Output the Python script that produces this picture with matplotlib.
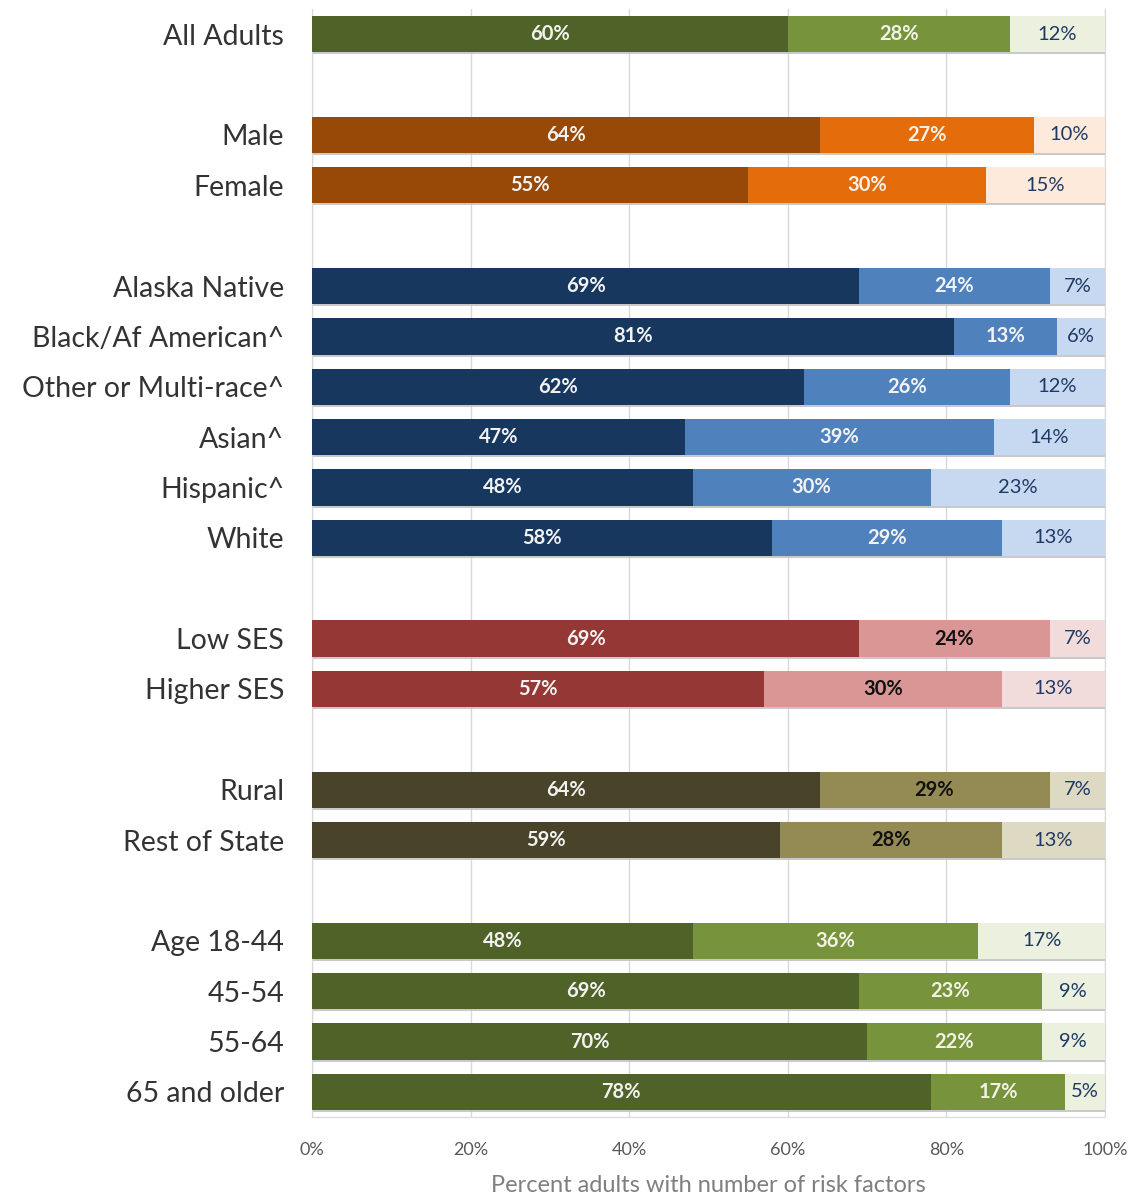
import numpy as np
import matplotlib.pyplot as plt

plt.rcParams['font.family'] = ['Lato', 'DejaVu Sans']

# rows, top to bottom ('' = blank spacer row)
labels = ['All Adults', '', 'Male', 'Female', '',
          'Alaska Native', 'Black/Af American^', 'Other or Multi-race^',
          'Asian^', 'Hispanic^', 'White', '',
          'Low SES', 'Higher SES', '',
          'Rural', 'Rest of State', '',
          'Age 18-44', '45-54', '55-64', '65 and older']

seg1 = [60, 0, 64, 55, 0, 69, 81, 62, 47, 48, 58, 0, 69, 57, 0, 64, 59, 0, 48, 69, 70, 78]
seg2 = [28, 0, 27, 30, 0, 24, 13, 26, 39, 30, 29, 0, 24, 30, 0, 29, 28, 0, 36, 23, 22, 17]
seg3 = [12, 0, 10, 15, 0, 7, 6, 12, 14, 23, 13, 0, 7, 13, 0, 7, 13, 0, 17, 9, 9, 5]

# palette per group: (dark, mid, light, mid-label colour)
green = ('#4F6228', '#77933C', '#EBF1DE', '#F2F2E6')
orange = ('#984807', '#E46C0A', '#FDEADA', '#F7F0E6')
blue = ('#17375E', '#4F81BD', '#C6D9F1', '#F2F2F2')
red = ('#953735', '#D99694', '#F2DCDB', '#111111')
brown = ('#494429', '#948A54', '#DDD9C3', '#111111')
row_pal = [green, None, orange, orange, None,
           blue, blue, blue, blue, blue, blue, None,
           red, red, None, brown, brown, None,
           green, green, green, green]

fig = plt.figure(figsize=(11.35, 12.01), dpi=100)
ax = fig.add_axes([0.2749, 0.0699, 0.6987, 0.9226])

y = np.arange(len(labels))
h = 0.72
for i in y:
    pal = row_pal[i]
    if pal is None:
        continue
    a, b, c = seg1[i], seg2[i], seg3[i]
    ax.barh(i, a, height=h, color=pal[0], zorder=3)
    ax.barh(i, b, left=a, height=h, color=pal[1], zorder=3)
    ax.barh(i, c, left=a + b, height=h, color=pal[2], zorder=3)
    # faint shadow line under each bar
    ax.plot([0, 100], [i + h / 2 + 0.02, i + h / 2 + 0.02], color='#BFBFBF', lw=1.2, zorder=2)
    ax.text(a / 2, i, f'{a}%', ha='center', va='center', color='#F2F2F2',
            fontsize=14.5, fontweight='bold', zorder=4)
    ax.text(a + b / 2, i, f'{b}%', ha='center', va='center', color=pal[3],
            fontsize=14.5, fontweight='bold', zorder=4)
    right = min(a + b + c, 100)
    ax.text((a + b + right) / 2, i, f'{c}%', ha='center', va='center',
            color='#1F3864', fontsize=14.5, zorder=4)

ax.set_xlim(0, 100)
ax.set_ylim(21.5, -0.5)
ax.set_yticks(y)
ax.set_yticklabels(labels, fontsize=20.5, color='#333333')
ax.set_xticks(np.arange(0, 101, 20))
ax.set_xticklabels([f'{v}%' for v in range(0, 101, 20)], fontsize=13, color='#595959')
ax.tick_params(axis='both', length=0)
ax.tick_params(axis='y', pad=20)
ax.tick_params(axis='x', pad=18)
ax.grid(axis='x', color='#D9D9D9', lw=1, zorder=0)
ax.spines['top'].set_visible(False)
for s in ['left', 'right', 'bottom']:
    ax.spines[s].set_color('#D9D9D9')
ax.set_xlabel('Percent adults with number of risk factors', fontsize=17,
              color='#7F7F7F', labelpad=12)

fig.savefig('out.png', dpi=100)
